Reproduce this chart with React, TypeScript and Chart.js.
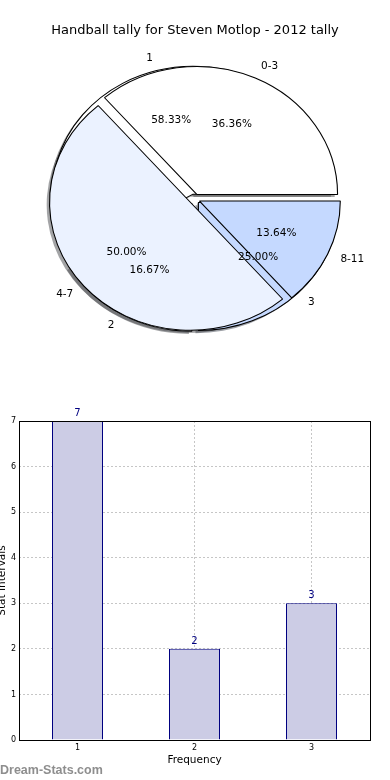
import React, { useEffect, useRef } from 'react';
import { Chart, registerables } from 'chart.js';

Chart.register(...registerables);
Chart.defaults.font.family = '"DejaVu Sans", sans-serif';

const chartTitle = 'Handball tally for Steven Motlop - 2012 tally';
const intervalLabels = ['0-3', '4-7', '8-11'];
const intervalValues = [8, 11, 3];
const frequencyLabels = ['1', '2', '3'];
const frequencyValues = [7, 2, 3];
const sliceColors = ['#ffffff', '#ebf2ff', '#c5d9ff'];

const barCategories = ['1', '2', '3'];
const barValues = [7, 2, 3];
const yTicks = [0, 1, 2, 3, 4, 5, 6, 7];
const xAxisTitle = 'Frequency';
const yAxisTitle = 'Stat Intervals';
const watermark = 'Dream-Stats.com';

const SX = 1.1; // horizontal stretch of the (elliptical) pie
const EXPLODE = 5;
const SHADOW = 2.6;
const PIE_RADIUS = 128;

function shadowOf(hex: string) {
  const h = hex.replace('#', '');
  const r = parseInt(h.slice(0, 2), 16);
  const g = parseInt(h.slice(2, 4), 16);
  const b = parseInt(h.slice(4, 6), 16);
  return `rgba(${Math.round(r * 0.3)},${Math.round(g * 0.3)},${Math.round(b * 0.3)},0.5)`;
}

function drawWedges(chart: any, shadowCharts: any[]) {
  const ctx = chart.ctx as CanvasRenderingContext2D;
  const arcs = chart.getDatasetMeta(0).data as any[];
  if (!arcs.length) return;
  const cx = arcs[0].x;
  const cy = arcs[0].y;
  ctx.save();
  ctx.translate(cx, cy);
  ctx.scale(SX, 1);
  ctx.translate(-cx, -cy);
  for (const sc of shadowCharts) {
    if (!sc) continue;
    (sc.getDatasetMeta(0).data as any[]).forEach((arc) => {
      const mid = (arc.startAngle + arc.endAngle) / 2;
      ctx.save();
      ctx.translate(Math.cos(mid) * EXPLODE - SHADOW, Math.sin(mid) * EXPLODE + SHADOW);
      ctx.beginPath();
      ctx.moveTo(arc.x, arc.y);
      ctx.arc(arc.x, arc.y, arc.outerRadius, arc.startAngle, arc.endAngle);
      ctx.closePath();
      ctx.fillStyle = shadowOf(arc.options.backgroundColor);
      ctx.fill();
      ctx.restore();
    });
  }
  arcs.forEach((arc) => {
    const mid = (arc.startAngle + arc.endAngle) / 2;
    ctx.save();
    ctx.translate(Math.cos(mid) * EXPLODE, Math.sin(mid) * EXPLODE);
    arc.draw(ctx);
    ctx.restore();
  });
  ctx.restore();
}

function drawPieTexts(ctx: CanvasRenderingContext2D, chart: any) {
  if (!chart) return;
  const meta = chart.getDatasetMeta(0);
  const vals = chart.data.datasets[0].data as number[];
  const labs = chart.data.labels as string[];
  const total = vals.reduce((s, v) => s + v, 0);
  ctx.save();
  ctx.fillStyle = '#000';
  ctx.font = '10.5px "DejaVu Sans"';
  ctx.textBaseline = 'middle';
  (meta.data as any[]).forEach((arc, i) => {
    const mid = (arc.startAngle + arc.endAngle) / 2;
    const c = Math.cos(mid);
    const s = Math.sin(mid);
    const pos = (k: number) => {
      const px = EXPLODE * c + arc.outerRadius * k * c;
      const py = EXPLODE * s + arc.outerRadius * k * s;
      return [arc.x + px * SX, arc.y + py];
    };
    const [lx, ly] = pos(1.1);
    ctx.textAlign = c > 0 ? 'left' : 'right';
    ctx.fillText(labs[i], lx, ly);
    const [qx, qy] = pos(0.6);
    ctx.textAlign = 'center';
    ctx.fillText(((vals[i] / total) * 100).toFixed(2) + '%', qx, qy);
  });
  ctx.restore();
}

function pieConfig(labels: string[], values: number[], plugin: any): any {
  const rev = <T,>(a: T[]) => a.slice().reverse();
  return {
    type: 'pie',
    data: {
      labels: rev(labels),
      datasets: [
        {
          data: rev(values),
          backgroundColor: rev(sliceColors),
          borderColor: '#000000',
          borderWidth: 1,
          radius: PIE_RADIUS,
        },
      ],
    },
    options: {
      responsive: false,
      animation: false,
      events: [],
      rotation: 90,
      layout: { padding: { left: 0, right: 1, top: 8, bottom: 0 } },
      plugins: {
        legend: { display: false },
        tooltip: { enabled: false },
        title: { display: false },
      },
    },
    plugins: [plugin],
  };
}

export default function App() {
  const aRef = useRef<HTMLCanvasElement>(null);
  const bRef = useRef<HTMLCanvasElement>(null);
  const barRef = useRef<HTMLCanvasElement>(null);

  useEffect(() => {
    document.body.style.margin = '0';
    let pieA: any = null;
    let pieB: any = null;

    pieB = new Chart(
      bRef.current as HTMLCanvasElement,
      pieConfig(intervalLabels, intervalValues, {
        id: 'pieBDraw',
        beforeDatasetsDraw(chart: any) {
          drawWedges(chart, []);
          return false;
        },
        afterDraw(chart: any) {
          const ctx = chart.ctx as CanvasRenderingContext2D;
          ctx.save();
          ctx.fillStyle = '#000';
          ctx.font = '13px "DejaVu Sans"';
          ctx.textAlign = 'center';
          ctx.textBaseline = 'alphabetic';
          ctx.fillText(chartTitle, 195, 34.3);
          ctx.restore();
          drawPieTexts(ctx, pieA);
          drawPieTexts(ctx, chart);
        },
      })
    );

    pieA = new Chart(
      aRef.current as HTMLCanvasElement,
      pieConfig(frequencyLabels, frequencyValues, {
        id: 'pieADraw',
        beforeDatasetsDraw(chart: any) {
          drawWedges(chart, [chart, pieB]);
          return false;
        },
      })
    );
    pieB.draw();

    const bar = new Chart(barRef.current as HTMLCanvasElement, {
      type: 'bar',
      data: {
        labels: barCategories,
        datasets: [
          {
            data: barValues,
            backgroundColor: '#ccccE5',
            borderColor: '#000080',
            borderWidth: 1,
            barPercentage: 51 / 117,
            categoryPercentage: 1,
          },
        ],
      },
      options: {
        responsive: false,
        animation: false,
        events: [],
        layout: { padding: { left: 0, right: 20, top: 31, bottom: 0 } },
        plugins: { legend: { display: false }, tooltip: { enabled: false } },
        scales: {
          x: {
            z: 1,
            grid: { offset: false, color: '#c6c6c6', drawTicks: false, lineWidth: 1 },
            border: { display: false, dash: [2, 2] },
            ticks: { font: { size: 8 }, color: '#000', padding: 3 },
            title: {
              display: true,
              text: xAxisTitle,
              color: '#000',
              font: { size: 10.5 },
              padding: { top: 0, bottom: 13.7 },
            },
            afterFit: (s: any) => {
              s.height = 40;
            },
          },
          y: {
            z: 1,
            min: 0,
            max: 7,
            afterBuildTicks: (s: any) => {
              s.ticks = yTicks.map((v) => ({ value: v }));
            },
            grid: { color: '#c6c6c6', drawTicks: false, lineWidth: 1 },
            border: { display: false, dash: [2, 2] },
            ticks: { font: { size: 8 }, color: '#000', padding: 3 },
            title: {
              display: true,
              text: yAxisTitle,
              color: '#000',
              font: { size: 10.5 },
              padding: { top: 2.2, bottom: 0 },
            },
            afterFit: (s: any) => {
              s.width = 25;
            },
          },
        },
      } as any,
      plugins: [
        {
          id: 'barDecor',
          afterDraw(chart: any) {
            const ctx = chart.ctx as CanvasRenderingContext2D;
            const a = chart.chartArea;
            ctx.save();
            ctx.strokeStyle = '#000';
            ctx.lineWidth = 1;
            ctx.setLineDash([]);
            ctx.strokeRect(
              Math.round(a.left) + 0.5,
              Math.round(a.top) + 0.5,
              Math.round(a.right - a.left),
              Math.round(a.bottom - a.top)
            );
            const meta = chart.getDatasetMeta(0);
            const vals = chart.data.datasets[0].data as number[];
            ctx.fillStyle = '#000080';
            ctx.font = '10px "DejaVu Sans"';
            ctx.textAlign = 'center';
            ctx.textBaseline = 'alphabetic';
            (meta.data as any[]).forEach((b, i) => {
              ctx.fillText(String(vals[i]), b.x, b.y - 5);
            });
            ctx.fillStyle = '#8e8e8e';
            ctx.font = 'bold 12.5px "Liberation Sans"';
            ctx.textAlign = 'left';
            ctx.fillText(watermark, 6, 384.3);
            ctx.restore();
          },
        },
      ],
    });

    return () => {
      pieA.destroy();
      pieB.destroy();
      bar.destroy();
    };
  }, []);

  return (
    <div style={{ position: 'relative', width: 390, height: 780, overflow: 'visible' }}>
      <canvas
        ref={aRef}
        width={390}
        height={390}
        style={{ position: 'absolute', left: 0, top: 0, width: 390, height: 390 }}
      />
      <canvas
        ref={bRef}
        width={390}
        height={390}
        style={{ position: 'absolute', left: 0, top: 0, width: 390, height: 390 }}
      />
      <canvas
        ref={barRef}
        width={396}
        height={390}
        style={{ position: 'absolute', left: -6, top: 390, width: 396, height: 390 }}
      />
    </div>
  );
}
